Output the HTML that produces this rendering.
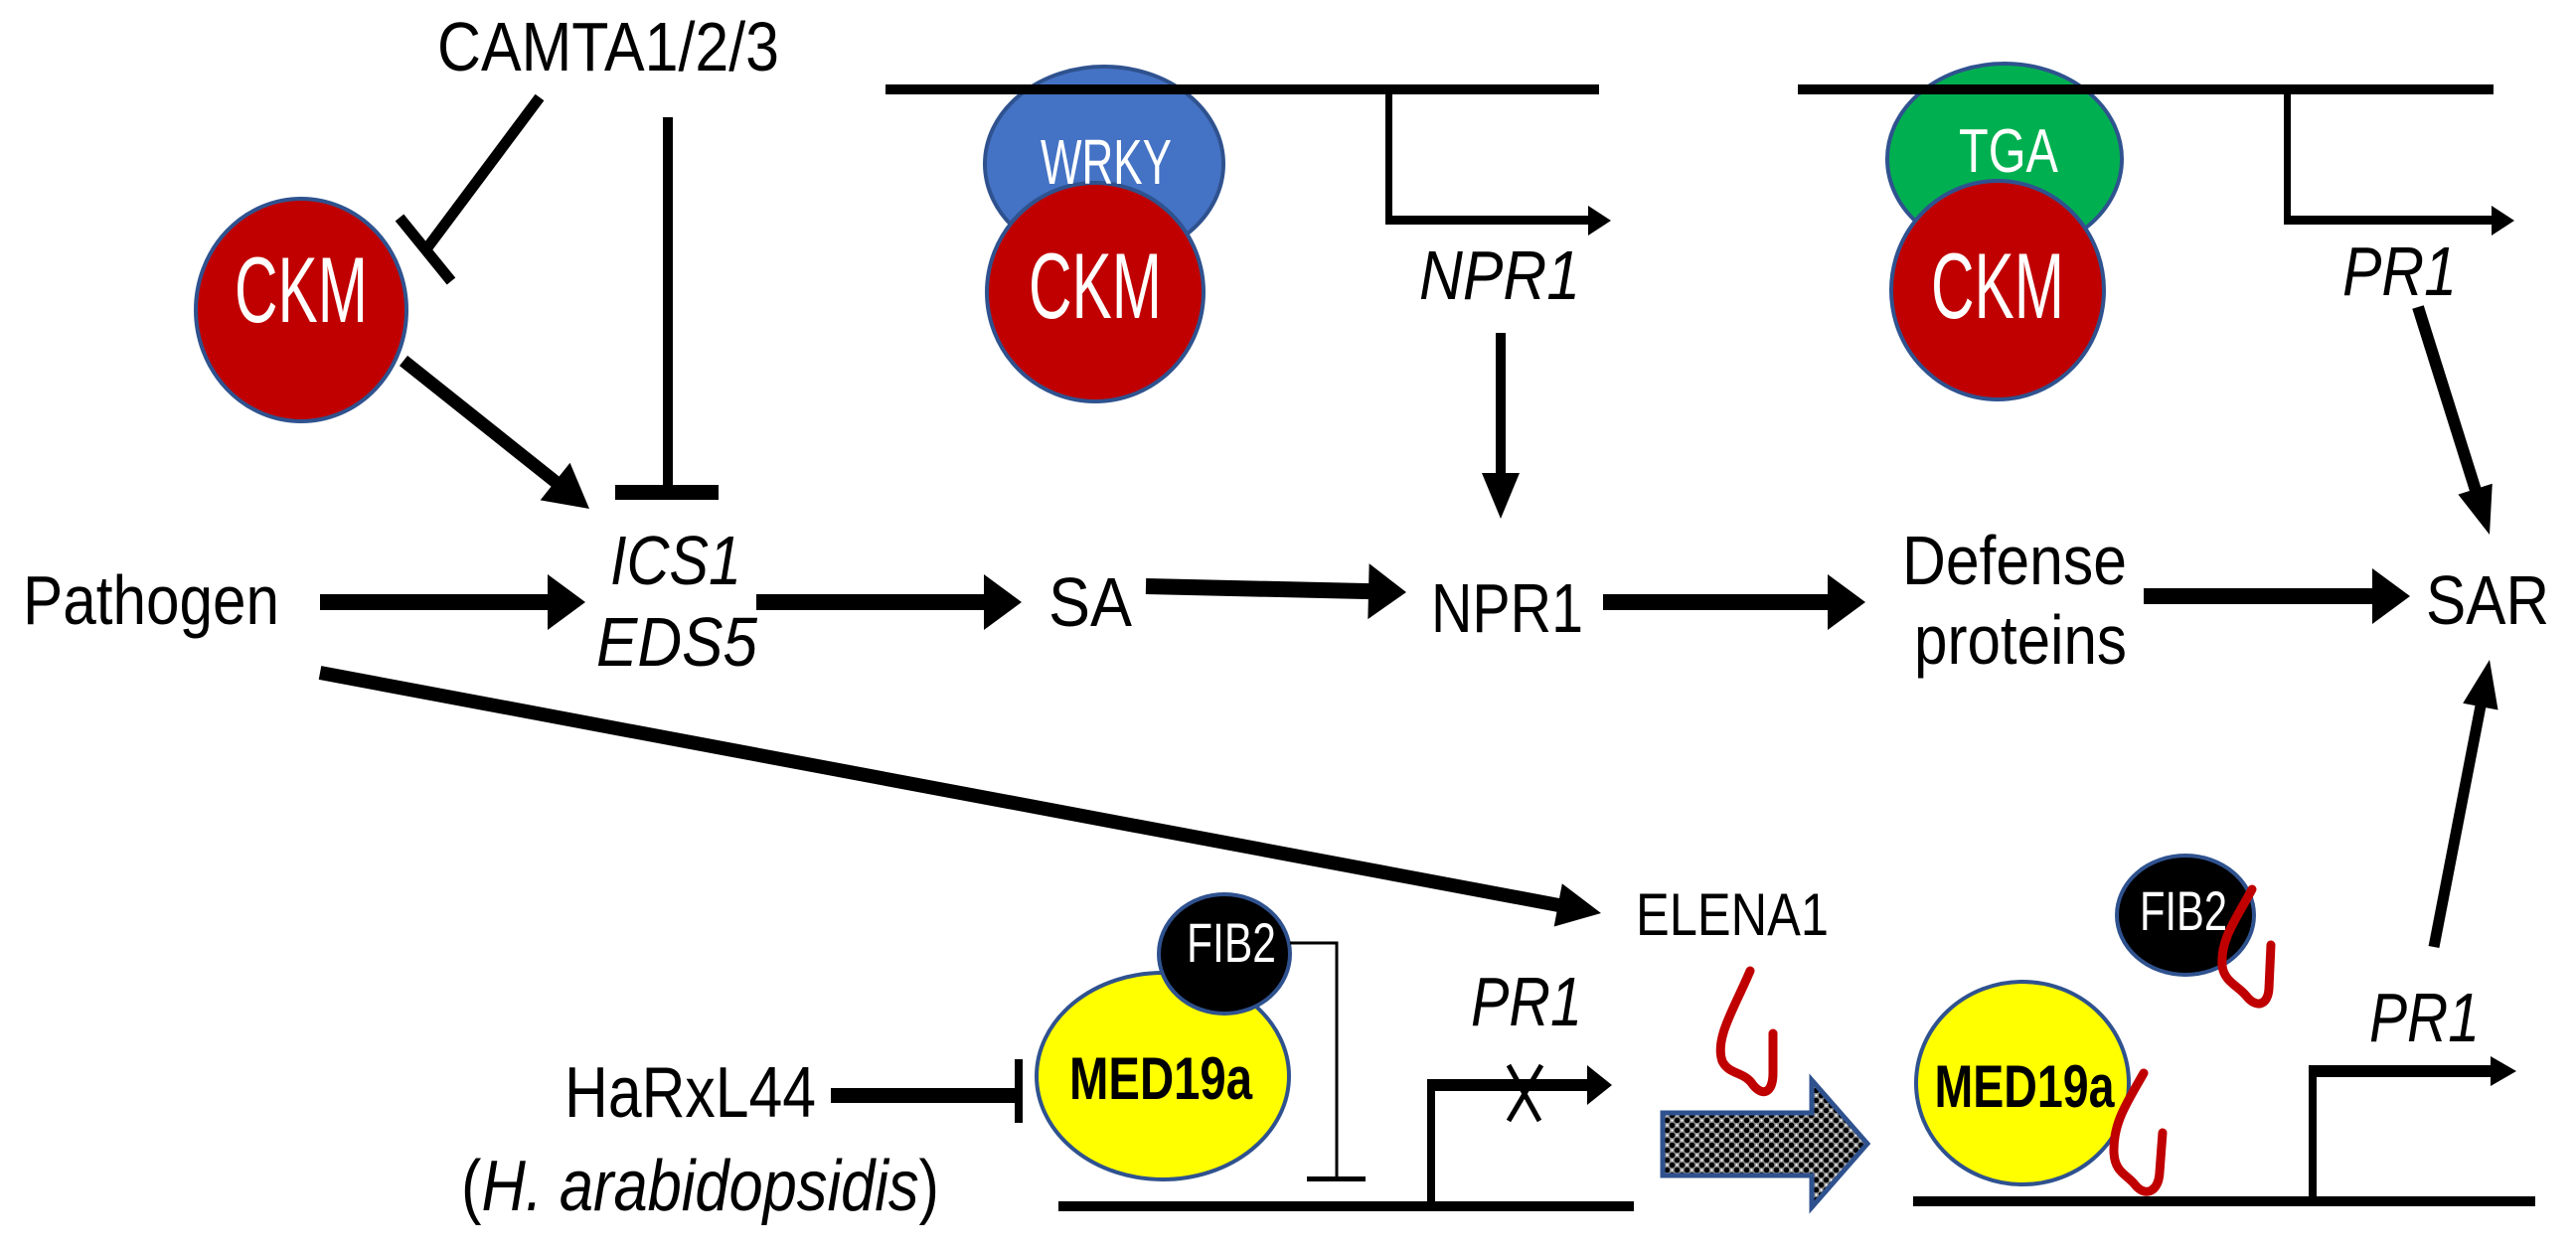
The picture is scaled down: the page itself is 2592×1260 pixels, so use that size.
<!DOCTYPE html>
<html><head><meta charset="utf-8"><style>
html,body{margin:0;padding:0;background:#fff;}
svg{display:block;}
text{font-family:"Liberation Sans",Arial,sans-serif;}
</style></head><body>
<svg id="s" width="2592" height="1260" viewBox="0 0 2592 1260" xmlns="http://www.w3.org/2000/svg">
<defs>
<pattern id="chk" width="10" height="10" patternUnits="userSpaceOnUse">
<rect width="10" height="10" fill="#888"/>
<circle cx="2.5" cy="2.5" r="2.8" fill="#000"/>
<circle cx="7.5" cy="7.5" r="2.8" fill="#000"/>
<circle cx="7.5" cy="2.5" r="1.1" fill="#fff"/>
<circle cx="2.5" cy="7.5" r="1.1" fill="#fff"/>
</pattern>
</defs>
<g id="arrows"></g>

<!-- WRKY / CKM -->
<ellipse cx="1111" cy="165" rx="120" ry="98" fill="#4472C4" stroke="#2F528F" stroke-width="4"/>
<ellipse cx="1102" cy="294" rx="109" ry="110" fill="#C00000" stroke="#2F528F" stroke-width="4"/>
<rect x="891" y="85" width="718" height="10" fill="#000"/>
<text x="1113" y="185" font-size="64" fill="#fff" text-anchor="middle" textLength="132" lengthAdjust="spacingAndGlyphs">WRKY</text>
<text x="1102" y="320" font-size="94" fill="#fff" text-anchor="middle" textLength="134" lengthAdjust="spacingAndGlyphs">CKM</text>

<!-- TGA / CKM -->
<ellipse cx="2017" cy="160" rx="118" ry="96" fill="#00B050" stroke="#2F528F" stroke-width="4"/>
<ellipse cx="2010" cy="292" rx="107" ry="110" fill="#C00000" stroke="#2F528F" stroke-width="4"/>
<rect x="1809" y="85" width="700" height="10" fill="#000"/>
<text x="2021" y="173" font-size="62" fill="#fff" text-anchor="middle" textLength="100" lengthAdjust="spacingAndGlyphs">TGA</text>
<text x="2010" y="320" font-size="94" fill="#fff" text-anchor="middle" textLength="134" lengthAdjust="spacingAndGlyphs">CKM</text>

<!-- left CKM -->
<ellipse cx="303" cy="312" rx="106" ry="112" fill="#C00000" stroke="#2F528F" stroke-width="4"/>
<text x="303" y="324" font-size="94" fill="#fff" text-anchor="middle" textLength="134" lengthAdjust="spacingAndGlyphs">CKM</text>

<!-- bent arrows top -->
<rect x="1394" y="90" width="7" height="135" fill="#000"/>
<rect x="1394" y="217" width="205" height="9" fill="#000"/>
<polygon points="1598,207 1621,222 1598,237" fill="#000"/>
<rect x="2298" y="90" width="7" height="135" fill="#000"/>
<rect x="2298" y="217" width="210" height="9" fill="#000"/>
<polygon points="2507,207 2530,222 2507,237" fill="#000"/>

<!-- inhibition CAMTA -> CKM -->
<line x1="543" y1="98" x2="428" y2="252" stroke="#000" stroke-width="11"/>
<line x1="402" y1="219" x2="454" y2="283" stroke="#000" stroke-width="11"/>
<!-- vertical inhibitor -->
<rect x="667" y="118" width="10" height="372" fill="#000"/>
<rect x="619" y="488" width="104" height="15" fill="#000"/>

<!-- labels -->
<text x="440" y="71" font-size="70" textLength="344" lengthAdjust="spacingAndGlyphs">CAMTA1/2/3</text>
<text x="1428" y="301" font-size="70" font-style="italic" textLength="162" lengthAdjust="spacingAndGlyphs">NPR1</text>
<text x="2357" y="297" font-size="70" font-style="italic" textLength="115" lengthAdjust="spacingAndGlyphs">PR1</text>
<text x="614" y="588" font-size="70" font-style="italic" textLength="132" lengthAdjust="spacingAndGlyphs">ICS1</text>
<text x="600" y="670" font-size="70" font-style="italic" textLength="162" lengthAdjust="spacingAndGlyphs">EDS5</text>
<text x="23" y="628" font-size="70" textLength="258" lengthAdjust="spacingAndGlyphs">Pathogen</text>
<text x="1055" y="630" font-size="70" textLength="84" lengthAdjust="spacingAndGlyphs">SA</text>
<text x="1440" y="636" font-size="70" textLength="153" lengthAdjust="spacingAndGlyphs">NPR1</text>
<text x="1914" y="588" font-size="70" textLength="226" lengthAdjust="spacingAndGlyphs">Defense</text>
<text x="1926" y="668" font-size="70" textLength="214" lengthAdjust="spacingAndGlyphs">proteins</text>
<text x="2441" y="628" font-size="70" textLength="124" lengthAdjust="spacingAndGlyphs">SAR</text>
<text x="1646" y="941" font-size="60" textLength="194" lengthAdjust="spacingAndGlyphs">ELENA1</text>
<text x="568" y="1124" font-size="72" textLength="253" lengthAdjust="spacingAndGlyphs">HaRxL44</text>
<text x="464" y="1218" font-size="72" textLength="481" lengthAdjust="spacingAndGlyphs">(<tspan font-style="italic">H. arabidopsidis</tspan>)</text>
<text x="1480" y="1032" font-size="70" font-style="italic" textLength="112" lengthAdjust="spacingAndGlyphs">PR1</text>
<text x="2384" y="1048" font-size="70" font-style="italic" textLength="111" lengthAdjust="spacingAndGlyphs">PR1</text>

<!-- HaRxL44 inhibitor -->
<rect x="836" y="1095" width="188" height="15" fill="#000"/>
<rect x="1021" y="1066" width="8" height="64" fill="#000"/>

<!-- left MED19a + FIB2 -->
<ellipse cx="1170" cy="1083" rx="127" ry="104" fill="#FFFF00" stroke="#2F528F" stroke-width="4"/>
<text x="1168" y="1106" font-size="60" font-weight="bold" text-anchor="middle" textLength="184" lengthAdjust="spacingAndGlyphs">MED19a</text>
<ellipse cx="1232" cy="960" rx="66" ry="60" fill="#000" stroke="#2F528F" stroke-width="4"/>
<text x="1239" y="968" font-size="56" fill="#fff" text-anchor="middle" textLength="90" lengthAdjust="spacingAndGlyphs">FIB2</text>
<!-- thin inhibitor from FIB2 -->
<polyline points="1298,949 1345,949 1345,1186" fill="none" stroke="#000" stroke-width="3"/>
<rect x="1315" y="1184" width="59" height="5" fill="#000"/>

<!-- bottom left gene -->
<rect x="1065" y="1209" width="579" height="10" fill="#000"/>
<rect x="1436" y="1090" width="8" height="124" fill="#000"/>
<rect x="1436" y="1086" width="162" height="12" fill="#000"/>
<polygon points="1597,1072 1622,1092 1597,1112" fill="#000"/>
<path d="M1518,1072 L1549,1128 M1551,1072 L1518,1128" stroke="#000" stroke-width="5" fill="none"/>

<!-- red squiggle 1 -->
<path d="M1761,977 C1745,1015 1725,1045 1733,1068 C1740,1082 1755,1078 1764,1092 C1775,1105 1784,1098 1784,1080 L1784,1040" fill="none" stroke="#C00000" stroke-width="9" stroke-linecap="round" stroke-linejoin="round"/>

<!-- hatched block arrow -->
<polygon points="1673,1120 1823,1120 1823,1087 1879,1151 1823,1215 1823,1183 1673,1183" fill="url(#chk)" stroke="#2F528F" stroke-width="5"/>

<!-- right MED19a -->
<ellipse cx="2035" cy="1090" rx="107" ry="102" fill="#FFFF00" stroke="#2F528F" stroke-width="4"/>
<text x="2037" y="1114" font-size="60" font-weight="bold" text-anchor="middle" textLength="181" lengthAdjust="spacingAndGlyphs">MED19a</text>
<path d="M2157,1080 C2140,1110 2126,1130 2127,1160 C2128,1180 2140,1182 2148,1192 C2158,1205 2172,1200 2173,1180 L2176,1140" fill="none" stroke="#C00000" stroke-width="9" stroke-linecap="round" stroke-linejoin="round"/>

<!-- right FIB2 -->
<ellipse cx="2199" cy="921" rx="69" ry="60" fill="#000" stroke="#2F528F" stroke-width="4"/>
<text x="2197" y="936" font-size="56" fill="#fff" text-anchor="middle" textLength="88" lengthAdjust="spacingAndGlyphs">FIB2</text>
<path d="M2266,895 C2250,925 2234,945 2236,972 C2238,988 2252,992 2260,1002 C2270,1015 2282,1012 2283,995 L2285,951" fill="none" stroke="#C00000" stroke-width="9" stroke-linecap="round" stroke-linejoin="round"/>

<!-- bottom right gene -->
<rect x="1925" y="1204" width="626" height="10" fill="#000"/>
<rect x="2323" y="1076" width="8" height="133" fill="#000"/>
<rect x="2323" y="1072" width="185" height="12" fill="#000"/>
<polygon points="2506,1063 2532,1078 2506,1093" fill="#000"/>
</svg>
<script>
(function(){
var g=document.getElementById('arrows');var NS='http://www.w3.org/2000/svg';
function arrow(x1,y1,x2,y2,w,hl,hw){
 var dx=x2-x1,dy=y2-y1,L=Math.sqrt(dx*dx+dy*dy),ux=dx/L,uy=dy/L,px=-uy,py=ux;
 var bx=x2-ux*hl,by=y2-uy*hl;
 var ln=document.createElementNS(NS,'line');
 ln.setAttribute('x1',x1);ln.setAttribute('y1',y1);ln.setAttribute('x2',bx+ux*2);ln.setAttribute('y2',by+uy*2);
 ln.setAttribute('stroke','#000');ln.setAttribute('stroke-width',w);g.appendChild(ln);
 var p=document.createElementNS(NS,'polygon');
 p.setAttribute('points',x2+','+y2+' '+(bx+px*hw/2)+','+(by+py*hw/2)+' '+(bx-px*hw/2)+','+(by-py*hw/2));
 p.setAttribute('fill','#000');g.appendChild(p);
}
arrow(406,363,593,512,13,44,48);
arrow(322,606,589,606,16,38,56);
arrow(761,606,1028,606,16,38,56);
arrow(1153,590,1415,596,16,38,56);
arrow(1613,606,1877,606,16,38,56);
arrow(2157,600,2425,600,16,38,56);
arrow(1510,335,1510,522,10,46,38);
arrow(2433,309,2505,538,12,48,36);
arrow(322,677,1611,919,14,44,44);
arrow(2449,953,2505,664,11,48,36);
})();
</script>
</body></html>
